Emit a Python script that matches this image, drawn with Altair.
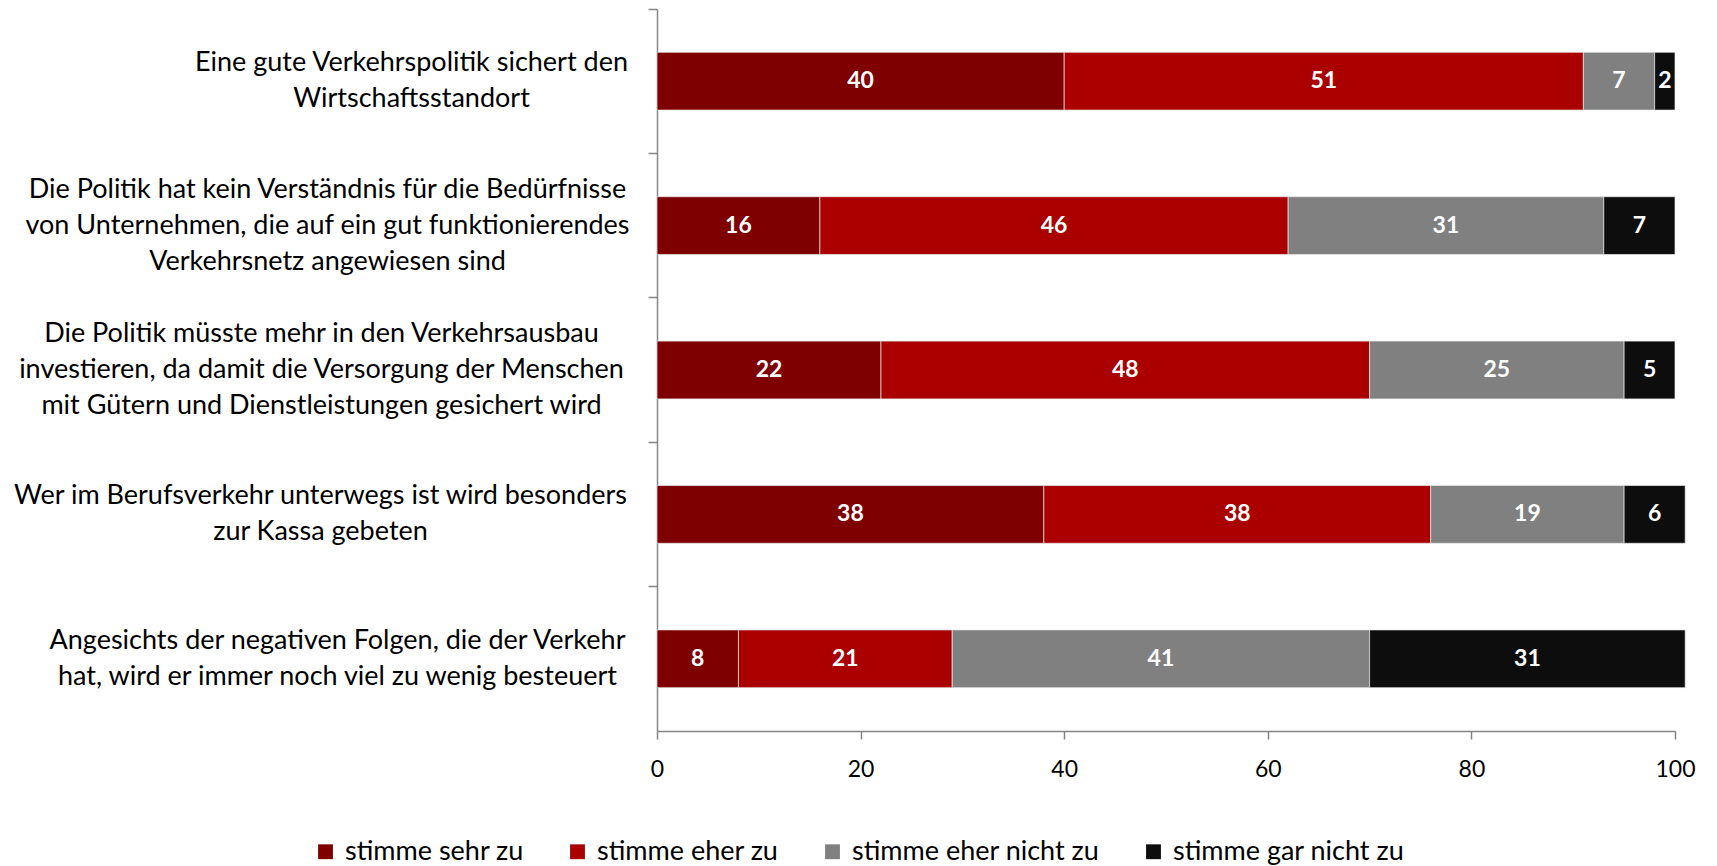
import altair as alt
import pandas as pd

statements = [
    "Eine gute Verkehrspolitik sichert den|Wirtschaftsstandort",
    "Die Politik hat kein Verständnis für die Bedürfnisse|von Unternehmen, die auf ein gut funktionierendes|Verkehrsnetz angewiesen sind",
    "Die Politik müsste mehr in den Verkehrsausbau|investieren, da damit die Versorgung der Menschen|mit Gütern und Dienstleistungen gesichert wird",
    "Wer im Berufsverkehr unterwegs ist wird besonders|zur Kassa gebeten",
    "Angesichts der negativen Folgen, die der Verkehr|hat, wird er immer noch viel zu wenig besteuert",
]
answers = ["stimme sehr zu", "stimme eher zu", "stimme eher nicht zu", "stimme gar nicht zu"]
sehr_zu = [40, 16, 22, 38, 8]
eher_zu = [51, 46, 48, 38, 21]
eher_nicht_zu = [7, 31, 25, 19, 41]
gar_nicht_zu = [2, 7, 5, 6, 31]
x_ticks = [0, 20, 40, 60, 80, 100]

colors = ["#7f0000", "#aa0000", "#808080", "#0d0d0d"]
FONT = "Lato"

series = [sehr_zu, eher_zu, eher_nicht_zu, gar_nicht_zu]
rows = []
for si, s in enumerate(statements):
    for ai, a in enumerate(answers):
        rows.append({"statement": s, "answer": a, "order": ai, "value": series[ai][si]})
df = pd.DataFrame(rows)

PLOT_W, PLOT_H = 1018, 722
LINE_H = 36

# styling: distance of each label block's centre from the axis, and vertical centring
label_pad = [237, 321, 327, 328, 311]
pad_cond = [
    {"test": "datum.value == '%s'" % s, "value": p}
    for s, p in zip(statements, label_pad)
]
off_cond = [
    {"test": "datum.value == '%s'" % s, "value": -(s.count("|")) * LINE_H / 2}
    for s in statements
]

base = alt.Chart(df).transform_window(
    end="sum(value)", groupby=["statement"], sort=[alt.SortField("order")], frame=[None, 0]
).transform_calculate(
    start="datum.end - datum.value", mid="(datum.start + datum.end) / 2"
)

y_enc = alt.Y(
    "statement:N",
    sort=statements,
    scale=alt.Scale(paddingInner=0, paddingOuter=0),
    axis=alt.Axis(
        title=None,
        labelExpr="split(datum.label, '|')",
        labelAlign="center",
        labelBaseline="middle",
        labelPadding={"condition": pad_cond, "value": 300},
        labelOffset={"condition": off_cond, "value": 0},
        bandPosition=0,
        labelFont=FONT,
        labelFontSize=27,
        labelLineHeight=LINE_H,
        labelLimit=0,
        labelColor="#000000",
        domainColor="#868686",
        domainWidth=1.5,
        tickColor="#868686",
        tickWidth=1.5,
        tickSize=9,
    ),
)

bars = base.mark_bar(
    stroke="#e8e8e8", strokeWidth=0.7, height=alt.RelativeBandSize(0.4)
).encode(
    y=y_enc,
    x=alt.X(
        "start:Q",
        scale=alt.Scale(domain=[0, 100], nice=False),
        axis=alt.Axis(
            title=None,
            values=x_ticks,
            grid=False,
            labelFlush=False,
            labelFont=FONT,
            labelFontSize=23,
            labelColor="#000000",
            labelPadding=19,
            domainColor="#868686",
            domainWidth=1.5,
            tickColor="#868686",
            tickWidth=1.5,
            tickSize=8,
        ),
    ),
    x2="end:Q",
    color=alt.Color(
        "answer:N",
        sort=answers,
        scale=alt.Scale(domain=answers, range=colors),
        legend=alt.Legend(
            title=None,
            orient="none",
            direction="horizontal",
            legendX=-345,
            legendY=829,
            symbolType="square",
            symbolSize=220,
            symbolStrokeWidth=0,
            labelFont=FONT,
            labelFontSize=27,
            labelColor="#000000",
            columnPadding=40,
            labelOffset=6,
            labelLimit=0,
        ),
    ),
    order=alt.Order("order:Q"),
)

labels = base.mark_text(
    color="white", fontWeight="bold", fontSize=23, font=FONT, baseline="middle", align="center"
).encode(
    y=alt.Y("statement:N", sort=statements),
    x=alt.X("mid:Q"),
    text=alt.Text("value:Q"),
)

chart = (
    alt.layer(bars, labels)
    .properties(
        width=PLOT_W,
        height=PLOT_H,
        autosize=alt.AutoSizeParams(type="none"),
        padding={"left": 649, "top": 1, "right": 30, "bottom": 135},
    )
    .configure(font=FONT)
    .configure_view(strokeWidth=0, stroke=None)
)

chart.save("out.html", embed_options={"renderer": "svg", "actions": False})
